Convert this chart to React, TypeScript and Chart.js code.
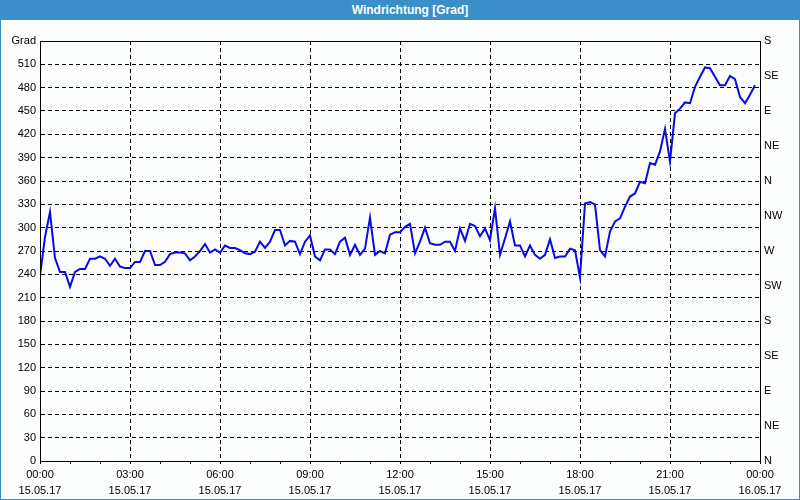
import React, { useEffect, useRef } from "react";
import { Chart, registerables } from "chart.js";

Chart.register(...registerables);

// Wind direction samples, one every 10 minutes from 15.05.17 00:00
const SAMPLE_MINUTES = 10;
const windDirection: number[] = [
  238, 288, 320, 261, 243, 243, 224, 243, 247, 247,
  260, 260, 263, 260, 251, 260, 250, 248, 248, 256,
  256, 270, 270, 252, 252, 256, 266, 268, 268, 267,
  258, 263, 270, 279, 268, 272, 268, 277, 274, 274,
  271, 267, 266, 269, 282, 274, 282, 297, 297, 277,
  283, 282, 266, 282, 290, 263, 258, 272, 272, 266,
  282, 287, 265, 278, 265, 273, 313, 265, 270, 267,
  291, 294, 294, 301, 305, 267, 282, 300, 280, 278,
  278, 282, 282, 270, 299, 283, 305, 302, 289, 299,
  284, 325, 265, 286, 308, 277, 277, 263, 277, 265,
  260, 265, 285, 261, 263, 263, 273, 271, 236, 331,
  333, 330, 271, 263, 295, 308, 312, 327, 340, 344,
  359, 357, 383, 381, 398, 427, 385, 447, 453, 461,
  460, 481, 494, 506, 505, 494, 483, 483, 495, 491,
  468, 460, 471, 483,
];

const xTickTimes = ["00:00", "03:00", "06:00", "09:00", "12:00", "15:00", "18:00", "21:00", "00:00"];
const xTickDates = ["15.05.17", "15.05.17", "15.05.17", "15.05.17", "15.05.17", "15.05.17", "15.05.17", "15.05.17", "16.05.17"];
const compassLabels = ["N", "NE", "E", "SE", "S", "SW", "W", "NW", "N", "NE", "E", "SE", "S"];
const yUnitLabel = "Grad";
const Y_MAX = 540;
const TITLE = "Windrichtung [Grad]";

const BLUE_FRAME = "#3b8ec8";
const LINE_COLOR = "#0a0ae6";

const framePlugin = {
  id: "frame",
  afterDraw(chart: any) {
    const { ctx, chartArea } = chart;
    const { left, top, right, bottom } = chartArea;
    ctx.save();
    ctx.strokeStyle = "#000";
    ctx.lineWidth = 1;
    ctx.setLineDash([]);
    ctx.strokeRect(Math.round(left) + 0.5, Math.round(top) + 0.5, Math.round(right - left), Math.round(bottom - top));
    ctx.restore();
  },
};

export default function App() {
  const ref = useRef<HTMLCanvasElement | null>(null);

  useEffect(() => {
    document.body.style.margin = "0";
    const canvas = ref.current;
    if (!canvas) return;
    const points = windDirection.map((v, i) => ({ x: (i * SAMPLE_MINUTES) / 60, y: v }));
    const font = { family: "'Liberation Sans', Arial, sans-serif", size: 11 };
    const chart = new Chart(canvas, {
      type: "line",
      data: {
        datasets: [
          {
            data: points,
            borderColor: LINE_COLOR,
            borderWidth: 2,
            pointRadius: 0,
            tension: 0,
            fill: false,
            yAxisID: "y",
          },
        ],
      },
      options: {
        animation: false,
        responsive: false,
        devicePixelRatio: 1,
        layout: { padding: { top: 21, left: 0, right: 0, bottom: 0 } },
        plugins: { legend: { display: false }, tooltip: { enabled: false }, title: { display: false } },
        scales: {
          x: {
            type: "linear",
            min: 0,
            max: 24,
            afterFit: (s: any) => {
              s.height = 38;
            },
            ticks: {
              stepSize: 1,
              autoSkip: false,
              maxRotation: 0,
              padding: 3,
              color: "#000",
              font: { ...font, lineHeight: 1.45 },
              callback: (value: any) => {
                const h = Number(value);
                if (h % 3 !== 0) return "";
                const k = h / 3;
                return [xTickTimes[k], xTickDates[k]];
              },
            },
            grid: {
              color: (c: any) => (c.tick && Number(c.tick.value) % 3 === 0 ? "#000" : "rgba(0,0,0,0)"),
              tickColor: "#000",
              tickLength: 3,
              lineWidth: 1,
            },
            border: { display: true, color: "#000", dash: [4, 3] },
          },
          y: {
            type: "linear",
            position: "left",
            min: 0,
            max: Y_MAX,
            afterFit: (s: any) => {
              s.width = 39;
            },
            ticks: {
              stepSize: 30,
              autoSkip: false,
              padding: 4,
              color: "#000",
              font,
              callback: (value: any) => (Number(value) === Y_MAX ? yUnitLabel : String(value)),
            },
            grid: { color: "#000", drawTicks: false, lineWidth: 1 },
            border: { display: true, color: "#000", dash: [4, 3] },
          },
          y2: {
            type: "linear",
            position: "right",
            min: 0,
            max: Y_MAX,
            afterFit: (s: any) => {
              s.width = 39;
            },
            ticks: {
              stepSize: 45,
              autoSkip: false,
              padding: 4,
              color: "#000",
              font,
              callback: (_v: any, i: number) => compassLabels[i],
            },
            grid: { drawOnChartArea: false, drawTicks: false },
            border: { display: true, color: "#000" },
          },
        },
      },
      plugins: [framePlugin],
    } as any);
    return () => chart.destroy();
  }, []);

  return (
    <div
      style={{
        position: "relative",
        width: 800,
        height: 500,
        boxSizing: "border-box",
        border: `1px solid ${BLUE_FRAME}`,
        background: "#fcfdfd",
      }}
    >
      <div
        style={{
          height: 19,
          background: BLUE_FRAME,
          color: "#fff",
          font: "bold 12px 'Liberation Sans', Arial, sans-serif",
          lineHeight: "19px",
          textAlign: "center",
          paddingLeft: 20,
          boxSizing: "border-box",
        }}
      >
        {TITLE}
      </div>
      <canvas ref={ref} width={798} height={479} style={{ display: "block", width: 798, height: 479 }} />
    </div>
  );
}
